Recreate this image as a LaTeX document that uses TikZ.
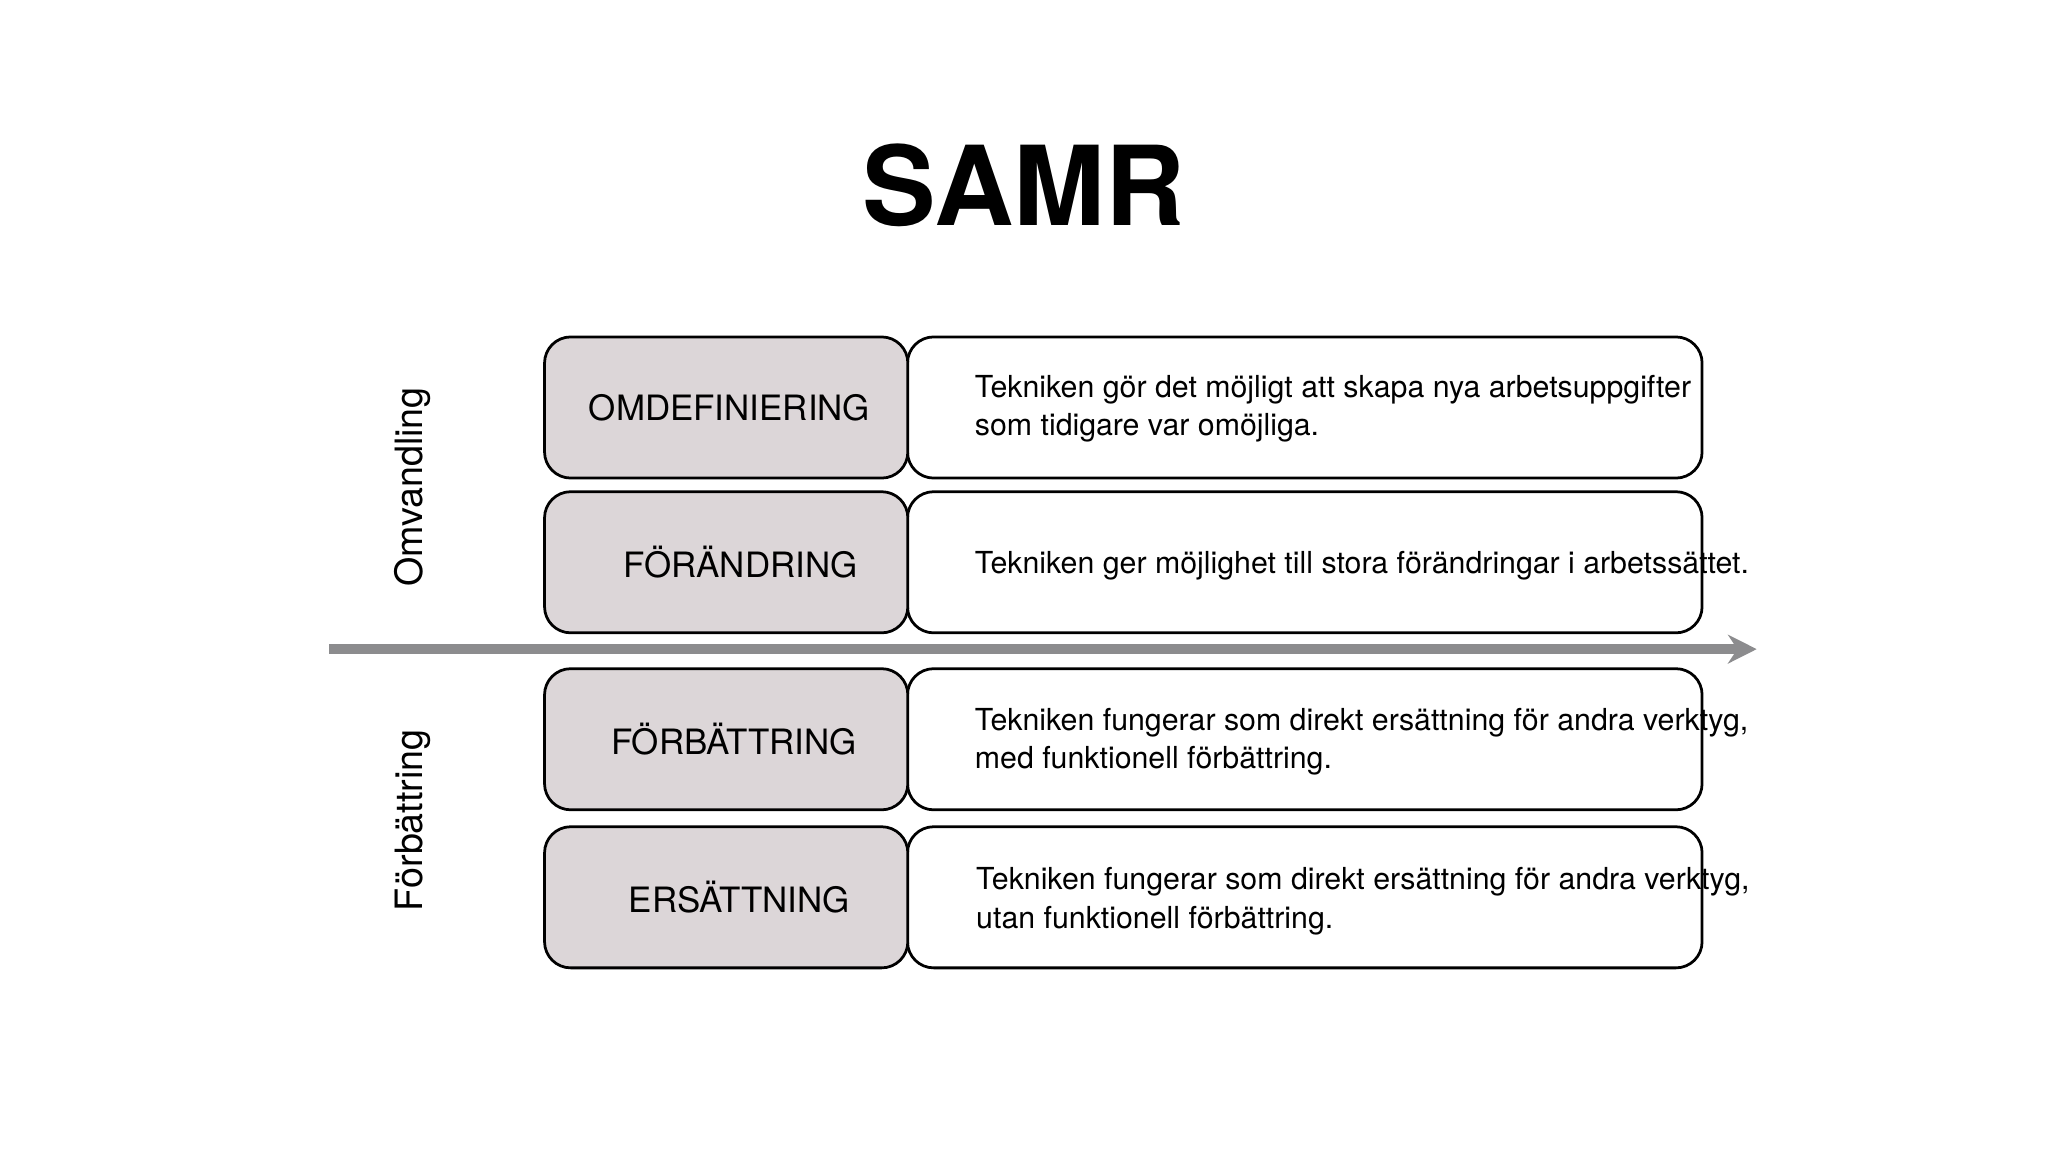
\documentclass[tikz,border=0pt]{standalone}
\usepackage{fontspec}
\setmainfont{TeX Gyre Heros}
\usetikzlibrary{arrows.meta}
\definecolor{lbox}{RGB}{220,214,216}
\definecolor{arr}{RGB}{140,140,142}
\tikzset{
  lab/.style={draw=black, line width=0.6pt, rounded corners=0.2cm, fill=lbox, minimum width=2.78cm, minimum height=1.08cm, font=\fontsize{7.6pt}{9pt}\selectfont, inner sep=0pt},
  desc/.style={draw=black, line width=0.6pt, rounded corners=0.2cm, fill=white, minimum width=6.08cm, minimum height=1.08cm, inner sep=0pt},
  dtext/.style={anchor=west, align=left, font=\fontsize{6.6pt}{8.3pt}\selectfont},
  side/.style={rotate=90, font=\fontsize{8.2pt}{10pt}\selectfont}
}
\begin{document}
\begin{tikzpicture}[x=0.01cm,y=-0.01cm]
\useasboundingbox (0,0) rectangle (1568,882);
\node[font=\fontsize{24pt}{28pt}\selectfont\bfseries] (title) at (784,142) {SAMR};
\draw[arr, line width=2.2pt, -{Stealth[length=0.22cm,width=0.22cm]}] (252,497) coordinate (a0) -- (1345,497) coordinate (a1);
\node[desc] (d1) at (999,312) {};
\node[desc] (d2) at (999,430.5) {};
\node[desc] (d3) at (999,566) {};
\node[desc] (d4) at (999,687) {};
\node[lab] (l1) at (556,312) {\hspace{0.05cm}OMDEFINIERING};
\node[lab] (l2) at (556,430.5) {\hspace{0.22cm}FÖRÄNDRING};
\node[lab] (l3) at (556,566) {\hspace{0.12cm}FÖRBÄTTRING};
\node[lab] (l4) at (556,687) {\hspace{0.2cm}ERSÄTTNING};
\node[dtext] (t1) at (734,313) {Tekniken gör det möjligt att skapa nya arbetsuppgifter\\som tidigare var omöjliga.};
\node[dtext] (t2) at (734,433) {Tekniken ger möjlighet till stora förändringar i arbetssättet.};
\node[dtext] (t3) at (734,568) {Tekniken fungerar som direkt ersättning för andra verktyg,\\med funktionell förbättring.};
\node[dtext] (t4) at (735,690) {Tekniken fungerar som direkt ersättning för andra verktyg,\\utan funktionell förbättring.};
\node[side] (s1) at (316,373) {Omvandling};
\node[side] (s2) at (316,628) {Förbättring};
\end{tikzpicture}
\end{document}
